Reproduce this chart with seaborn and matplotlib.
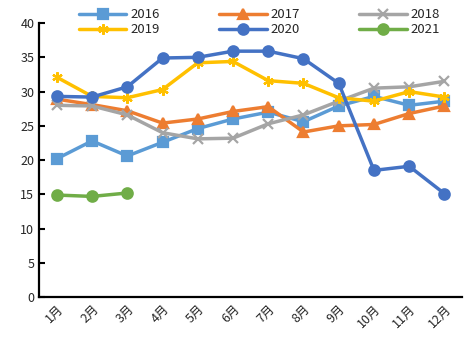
import pandas as pd
import matplotlib
matplotlib.use("Agg")
import matplotlib.pyplot as plt
import seaborn as sns

# month labels and yearly series
months = ['1月', '2月', '3月', '4月', '5月', '6月', '7月', '8月', '9月', '10月', '11月', '12月']
y2016 = [20.2, 22.8, 20.6, 22.6, 24.6, 26.0, 27.0, 25.6, 27.9, 29.3, 28.0, 28.6]
y2017 = [28.9, 28.1, 27.2, 25.4, 26.0, 27.1, 27.8, 24.1, 25.0, 25.2, 26.8, 27.9]
y2018 = [28.0, 27.9, 26.6, 24.0, 23.1, 23.2, 25.3, 26.6, 28.6, 30.5, 30.7, 31.5]
y2019 = [32.1, 29.3, 29.1, 30.3, 34.2, 34.4, 31.6, 31.2, 29.1, 28.6, 30.0, 29.2]
y2020 = [29.3, 29.2, 30.7, 34.9, 35.0, 35.9, 35.9, 34.8, 31.2, 18.5, 19.1, 15.1]
y2021 = [14.9, 14.7, 15.2]

series = {'2016': y2016, '2017': y2017, '2018': y2018,
          '2019': y2019, '2020': y2020, '2021': y2021}
colors = {'2016': '#5B9BD5', '2017': '#ED7D31', '2018': '#A5A5A5',
          '2019': '#FFC000', '2020': '#4472C4', '2021': '#70AD47'}
markers = {'2016': 's', '2017': '^', '2018': 'x',
           '2019': (6, 2, 0), '2020': 'o', '2021': 'o'}
msizes = {'2016': 6.5, '2017': 6.5, '2018': 6.5, '2019': 7.5, '2020': 7.5, '2021': 7.5}

sns.set_style("white")
plt.rcParams['font.family'] = ['Noto Sans CJK SC', 'DejaVu Sans']

fig = plt.figure(figsize=(4.72, 3.55), dpi=100)
ax = fig.add_axes([0.083, 0.163, 0.896, 0.772])

for name, vals in series.items():
    df = pd.DataFrame({'x': range(len(vals)), 'y': vals})
    sns.lineplot(data=df, x='x', y='y', ax=ax, color=colors[name], lw=2.5,
                 marker=markers[name], markersize=msizes[name],
                 markeredgecolor=colors[name], markeredgewidth=1.6,
                 label=name)

ax.set_xlim(-0.5, 11.5)
ax.set_ylim(0, 40)
ax.set_yticks(range(0, 41, 5))
ax.set_xticks(range(12))
ax.set_xticklabels(months, rotation=45, fontsize=9)
ax.set_xticks([i + 0.5 for i in range(12)], minor=True)
ax.tick_params(axis='x', which='major', length=0, pad=4)
ax.tick_params(axis='x', which='minor', direction='in', length=4, width=1.5, color='black')
ax.tick_params(axis='y', direction='in', length=4, width=1.5, color='black', labelsize=9, left=True)
for lbl in ax.get_xticklabels():
    lbl.set_ha('right')
    lbl.set_rotation_mode('anchor')
ax.set_xlabel('')
ax.set_ylabel('')
sns.despine(ax=ax)
for s in ['left', 'bottom']:
    ax.spines[s].set_color('black')
    ax.spines[s].set_linewidth(1.6)

# legend fills column by column, so reorder to read row by row
handles, labels = ax.get_legend_handles_labels()
order = [0, 3, 1, 4, 2, 5]
ax.legend_.remove()
fig.legend([handles[i] for i in order], [labels[i] for i in order], ncol=3,
           loc='upper center', bbox_to_anchor=(0.55, 1.01),
           frameon=False, fontsize=9.5, handlelength=3.6, columnspacing=4.5,
           labelspacing=0.15, handletextpad=0.3)

fig.savefig('out.png', dpi=100)
